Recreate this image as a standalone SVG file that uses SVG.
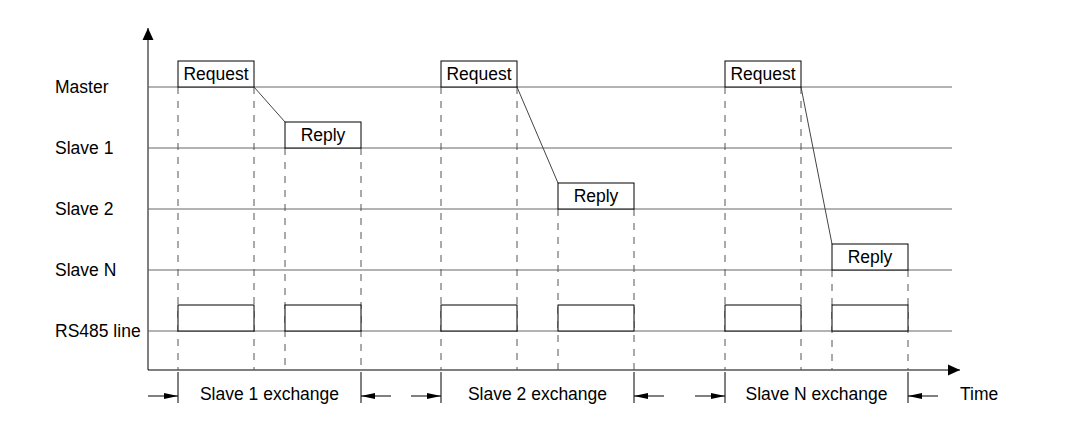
<svg xmlns="http://www.w3.org/2000/svg" width="1074" height="434" viewBox="0 0 1074 434">
<defs>
<marker id="ah" viewBox="0 0 14 8" refX="14" refY="4" markerWidth="14" markerHeight="8" markerUnits="userSpaceOnUse" orient="auto"><path d="M0,1 L14,4 L0,7 Z" fill="#000"/></marker>
<marker id="ax" viewBox="0 0 12 12" refX="12" refY="6" markerWidth="12" markerHeight="12" markerUnits="userSpaceOnUse" orient="auto"><path d="M0,0.5 L12,6 L0,11.5 Z" fill="#000"/></marker>
</defs>
<style>
text{font-family:"Liberation Sans",Arial,sans-serif;font-size:17.5px;fill:#000}
.box{fill:#fff;stroke:#000;stroke-width:1}
.hl{stroke:#666;stroke-width:1;fill:none}
.dash{stroke:#555;stroke-width:1;stroke-dasharray:7,7;fill:none}
.sol{stroke:#000;stroke-width:1;fill:none}
.diag{stroke:#444;stroke-width:1;fill:none}
</style>
<rect width="1074" height="434" fill="#fff"/>
<g id="labels">
<text x="55" y="93">Master</text>
<text x="55" y="154">Slave 1</text>
<text x="55" y="215">Slave 2</text>
<text x="55" y="276">Slave N</text>
<text x="55" y="337">RS485 line</text>
<text x="960" y="400">Time</text>
</g>
<g id="axes">
<line class="sol" x1="148" y1="370" x2="148" y2="28" marker-end="url(#ax)"/>
<line class="sol" x1="148" y1="370" x2="960" y2="370" marker-end="url(#ax)"/>
<line class="hl" x1="148" y1="87" x2="952" y2="87"/>
<line class="hl" x1="148" y1="148" x2="952" y2="148"/>
<line class="hl" x1="148" y1="209" x2="952" y2="209"/>
<line class="hl" x1="148" y1="270" x2="952" y2="270"/>
<line class="hl" x1="148" y1="331" x2="952" y2="331"/>
</g>
<g id="connectors">
<path class="dash" d="M178,87V370 M254,87V370 M285,148V370 M361,148V370"/>
<path class="dash" d="M441,87V370 M517,87V370 M558,209V370 M634,209V370"/>
<path class="dash" d="M725,87V370 M801,87V370 M832,270V370 M908,270V370"/>
<path class="diag" d="M254,87L285,122 M517,87L558,183 M801,87L832,244"/>
<path class="sol" d="M178,372V403 M361,372V403 M441,372V403 M634,372V403 M725,372V403 M908,372V403"/>
<line class="sol" x1="148" y1="396" x2="178" y2="396" marker-end="url(#ah)"/>
<line class="sol" x1="391" y1="396" x2="361" y2="396" marker-end="url(#ah)"/>
<line class="sol" x1="411" y1="396" x2="441" y2="396" marker-end="url(#ah)"/>
<line class="sol" x1="664" y1="396" x2="634" y2="396" marker-end="url(#ah)"/>
<line class="sol" x1="695" y1="396" x2="725" y2="396" marker-end="url(#ah)"/>
<line class="sol" x1="938" y1="396" x2="908" y2="396" marker-end="url(#ah)"/>
</g>
<g id="exchange1"><text x="269.5" y="400" text-anchor="middle">Slave 1 exchange</text></g>
<g id="exchange2"><text x="537.5" y="400" text-anchor="middle">Slave 2 exchange</text></g>
<g id="exchangeN"><text x="816.5" y="400" text-anchor="middle">Slave N exchange</text></g>
<g id="request1"><rect class="box" x="178" y="61" width="76" height="26"/><text x="216" y="80" text-anchor="middle">Request</text></g>
<g id="reply1"><rect class="box" x="285" y="122" width="76" height="26"/><text x="323" y="141" text-anchor="middle">Reply</text></g>
<g id="request2"><rect class="box" x="441" y="61" width="76" height="26"/><text x="479" y="80" text-anchor="middle">Request</text></g>
<g id="reply2"><rect class="box" x="558" y="183" width="76" height="26"/><text x="596" y="202" text-anchor="middle">Reply</text></g>
<g id="requestN"><rect class="box" x="725" y="61" width="76" height="26"/><text x="763" y="80" text-anchor="middle">Request</text></g>
<g id="replyN"><rect class="box" x="832" y="244" width="76" height="26"/><text x="870" y="263" text-anchor="middle">Reply</text></g>
<g id="bus1a"><rect class="box" x="178" y="305" width="76" height="26"/></g>
<g id="bus1b"><rect class="box" x="285" y="305" width="76" height="26"/></g>
<g id="bus2a"><rect class="box" x="441" y="305" width="76" height="26"/></g>
<g id="bus2b"><rect class="box" x="558" y="305" width="76" height="26"/></g>
<g id="busNa"><rect class="box" x="725" y="305" width="76" height="26"/></g>
<g id="busNb"><rect class="box" x="832" y="305" width="76" height="26"/></g>
</svg>
